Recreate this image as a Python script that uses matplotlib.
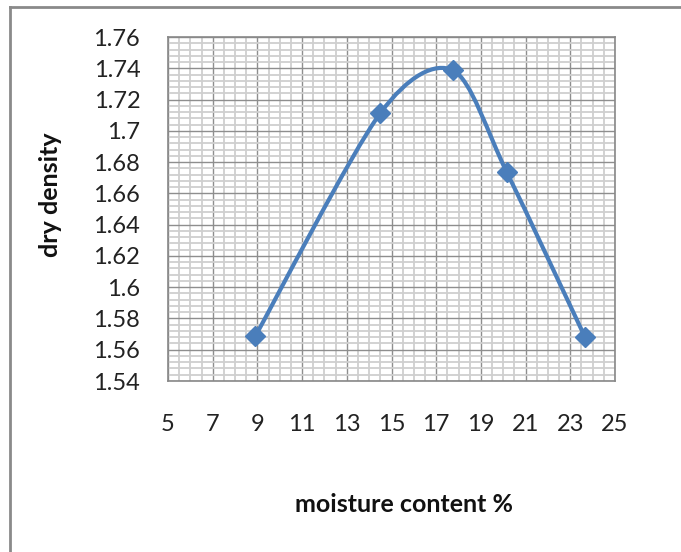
import numpy as np
import matplotlib.pyplot as plt
from matplotlib.path import Path
from matplotlib.patches import PathPatch
from matplotlib.ticker import MultipleLocator

plt.rcParams['font.family'] = ['Lato', 'DejaVu Sans']

# data
moisture = [8.9, 14.5, 17.75, 20.15, 23.65]
density = [1.5685, 1.7113, 1.7387, 1.6738, 1.5683]

x_ticks = [5, 7, 9, 11, 13, 15, 17, 19, 21, 23, 25]
y_ticks = [1.54, 1.56, 1.58, 1.6, 1.62, 1.64, 1.66, 1.68, 1.7, 1.72, 1.74, 1.76]
y_labels = ['1.54', '1.56', '1.58', '1.6', '1.62', '1.64', '1.66', '1.68', '1.7', '1.72', '1.74', '1.76']

fig = plt.figure(figsize=(6.81, 5.52), dpi=100)
ax = fig.add_axes([168/681, 1 - 381/552, (615-168)/681, (381-37)/552])

ax.set_xlim(5, 25)
ax.set_ylim(1.54, 1.76)
ax.set_xticks(x_ticks)
ax.set_yticks(y_ticks)
ax.set_yticklabels(y_labels)
ax.xaxis.set_minor_locator(MultipleLocator(0.5))
ax.yaxis.set_minor_locator(MultipleLocator(0.004))
ax.grid(which='minor', color='#cfcfcf', linewidth=1.3)
ax.grid(which='major', color='#8e8e8e', linewidth=1.0)
ax.set_axisbelow(True)
ax.tick_params(which='both', length=0)
ax.tick_params(axis='y', labelsize=17, pad=20, colors='#222222')
ax.tick_params(axis='x', labelsize=17, pad=24, colors='#222222')
for s in ax.spines.values():
    s.set_color('#888888')
    s.set_linewidth(1.2)

# Excel style smoothed line (bezier through points, computed in axes space)
to_ax = ax.transData + ax.transAxes.inverted()
pts = to_ax.transform(np.column_stack([moisture, density]))
ext = np.vstack([pts[0], pts, pts[-1]])
verts = [pts[0]]
codes = [Path.MOVETO]
for i in range(len(pts) - 1):
    p0, p1, p2, p3 = ext[i], ext[i+1], ext[i+2], ext[i+3]
    c1 = p1 + (p2 - p0) / 7
    c2 = p2 - (p3 - p1) / 7
    verts += [c1, c2, p2]
    codes += [Path.CURVE4] * 3
curve = PathPatch(Path(verts, codes), transform=ax.transAxes, facecolor='none',
                  edgecolor='#4a7ebb', linewidth=3.0, capstyle='round', zorder=3)
ax.add_patch(curve)
ax.plot(moisture, density, linestyle='none', marker='D', markersize=10,
        color='#4a7ebb', zorder=4, clip_on=False)

fig.text(50/681, 1 - 195/552, 'dry density', rotation=90, ha='center', va='center',
         fontsize=18, fontweight='bold', color='#111111')
fig.text(404/681, 1 - 505/552, 'moisture content %', ha='center', va='center',
         fontsize=18, fontweight='bold', color='#111111')

# chart frame (left and top edges visible)
fig.add_artist(plt.Line2D([10/681, 10/681], [0, 1 - 7/552], color='#8a8a8a', linewidth=2))
fig.add_artist(plt.Line2D([10/681, 1], [1 - 7/552, 1 - 7/552], color='#8a8a8a', linewidth=2))

fig.savefig('out.png', dpi=100)
